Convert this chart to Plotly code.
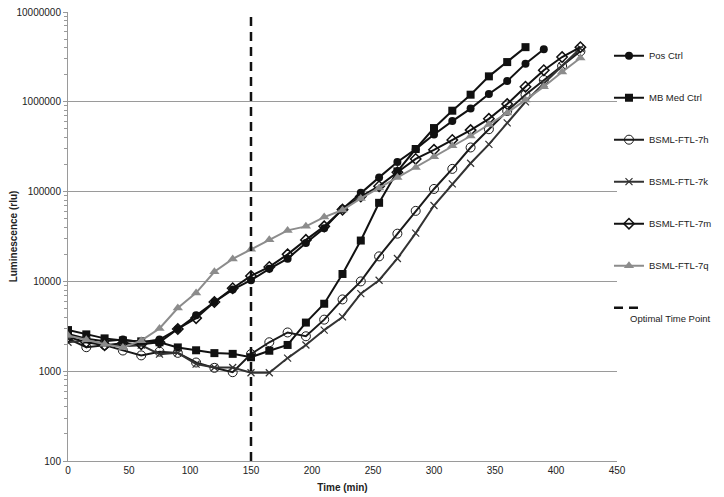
import plotly.graph_objects as go

# Tempo de leitura (min), a cada 15 min
time = list(range(0, 421, 15))

pos_ctrl = [2600, 2300, 2150, 2250, 2100, 2250, 2950, 4200, 5900, 8100, 10300, 13800,
            17900, 26800, 39000, 64000, 97000, 144000, 214000, 297000, 432000, 610000,
            840000, 1220000, 1700000, 2660000, 3850000]
mb_med_ctrl = [2870, 2570, 2320, 2200, 2150, 2100, 1840, 1710, 1590, 1560, 1430, 1690,
               1960, 3480, 5640, 12100, 28500, 75000, 168000, 298000, 510000, 796000,
               1200000, 1920000, 2770000, 4060000]
ftl_7h = [2300, 1850, 1950, 1700, 1500, 1650, 1600, 1250, 1090, 975, 1550, 2100, 2700,
          2450, 3750, 6300, 10000, 19000, 34000, 61000, 107000, 179000, 310000, 495000,
          790000, 1200000, 1750000, 2500000, 3650000]
ftl_7k = [2100, 2200, 2000, 1900, 1950, 1550, 1600, 1200, 1100, 1100, 960, 960, 1400,
          1960, 2870, 4020, 7300, 10300, 18000, 34500, 70000, 122000, 207000, 336000,
          583000, 1000000, 1600000, 2500000, 3950000]
ftl_7m = [2400, 2100, 1950, 2050, 2000, 2100, 2950, 3900, 5900, 8400, 11500, 14500,
          20000, 29000, 41000, 63000, 88000, 115000, 164000, 231000, 292000, 376000,
          484000, 646000, 944000, 1470000, 2250000, 3150000, 4060000]
ftl_7q = [2500, 2240, 2000, 1840, 2190, 2990, 5050, 7450, 12800, 17800, 22800, 29100,
          37000, 41000, 52000, 62300, 84000, 110000, 144000, 186000, 245000, 323000,
          416000, 559000, 752000, 1050000, 1470000, 2150000, 3070000]

optimal_time = 150

series = [
    ("Pos Ctrl", pos_ctrl, "#111111", dict(symbol="circle", size=8, color="#111111")),
    ("MB Med Ctrl", mb_med_ctrl, "#111111", dict(symbol="square", size=8, color="#111111")),
    ("BSML-FTL-7h", ftl_7h, "#1a1a1a",
     dict(symbol="circle-open", size=9, color="#1a1a1a", line=dict(width=1))),
    ("BSML-FTL-7k", ftl_7k, "#333333",
     dict(symbol="x-thin", size=7, color="#333333", line=dict(width=1.2, color="#333333"))),
    ("BSML-FTL-7m", ftl_7m, "#111111",
     dict(symbol="diamond-open", size=8, color="#111111", line=dict(width=1.5))),
    ("BSML-FTL-7q", ftl_7q, "#8c8c8c", dict(symbol="triangle-up", size=9, color="#8c8c8c")),
]

fig = go.Figure()
for i, (name, vals, col, mk) in enumerate(series):
    fig.add_trace(go.Scatter(
        x=time[:len(vals)], y=vals, name=name, mode="lines+markers",
        line=dict(color=col, width=2), marker=mk, legendgroup=str(i)))

# linha do ponto ótimo
fig.add_trace(go.Scatter(
    x=[optimal_time, optimal_time], y=[100, 10000000], name=" ", mode="lines",
    line=dict(color="#111111", width=2.5, dash="9px,6px"), legendgroup="opt"))

fig.add_annotation(text="Optimal Time Point", xref="paper", yref="paper",
                   x=1.020, y=0.318, xanchor="left", yanchor="middle", showarrow=False,
                   font=dict(size=9.5, color="#222222"))

fig.update_layout(
    width=724, height=497,
    paper_bgcolor="white", plot_bgcolor="white",
    font=dict(family="Liberation Sans, Arial, sans-serif", size=10, color="#222222"),
    margin=dict(l=60, r=115, t=4, b=44, autoexpand=False),
    legend=dict(x=0.9854, y=0.935, xanchor="left", yanchor="top",
                bgcolor="rgba(0,0,0,0)",
                tracegroupgap=23, font=dict(size=9.5), itemwidth=30),
    showlegend=True,
)
fig.update_xaxes(range=[0, 450], dtick=50, showgrid=False, zeroline=False,
                 showline=True, linecolor="#9a9a9a", linewidth=1, ticks="",
                 title=dict(text="<b>Time (min)</b>", standoff=8, font=dict(size=10)))
fig.update_yaxes(type="log", range=[2, 7], dtick=1, tickformat="d",
                 ticklabeloverflow="allow",
                 showgrid=True, gridcolor="#9a9a9a", gridwidth=1, zeroline=False,
                 showline=True, linecolor="#9a9a9a", linewidth=1,
                 ticks="outside", ticklen=4, tickcolor="#9a9a9a",
                 minor=dict(ticks="outside", ticklen=3, tickcolor="#9a9a9a", showgrid=False),
                 title=dict(text="<b>Luminescence (rlu)</b>", standoff=4, font=dict(size=10)))

fig.write_html("out.html")
